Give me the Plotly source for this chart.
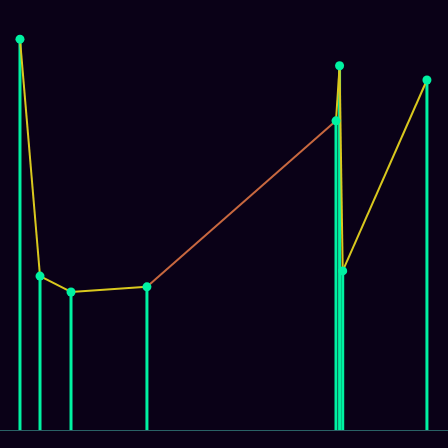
import plotly.graph_objects as go

x_vals = [4.46, 8.93, 15.85, 32.8, 75.0, 75.8, 76.5, 95.3]
y_vals = [90.9, 35.8, 32.1, 33.3, 71.9, 84.7, 37.0, 81.4]
seg_colors = ["#d9c81e", "#d9c81e", "#d9c81e", "#c8683f", "#d9c81e", "#d9c81e", "#d9c81e"]

BG = "#0a0117"
STEM = "#00f2a2"

fig = go.Figure()

# stems
sx, sy = [], []
for xv, yv in zip(x_vals, y_vals):
    sx += [xv, xv, None]
    sy += [0, yv, None]
fig.add_trace(go.Scatter(x=sx, y=sy, mode="lines", line=dict(color=STEM, width=3),
                         hoverinfo="skip", showlegend=False))

# connecting segments
for i, c in enumerate(seg_colors):
    fig.add_trace(go.Scatter(x=x_vals[i:i + 2], y=y_vals[i:i + 2], mode="lines",
                             line=dict(color=c, width=2), hoverinfo="skip", showlegend=False))

# markers
fig.add_trace(go.Scatter(x=x_vals, y=y_vals, mode="markers",
                         marker=dict(color=STEM, size=9), showlegend=False))

fig.update_layout(
    width=448, height=448,
    margin=dict(l=0, r=0, t=0, b=18),
    paper_bgcolor=BG, plot_bgcolor=BG,
    xaxis=dict(range=[0, 100], showgrid=False, zeroline=False, showticklabels=False,
               showline=True, linecolor="#2a6166", linewidth=1),
    yaxis=dict(range=[0, 100], showgrid=False, zeroline=False, showticklabels=False),
)

fig.write_html(
    "out.html",
    config={"displayModeBar": False},
    post_script="document.body.style.margin='0';document.body.style.background='%s';" % BG,
)
